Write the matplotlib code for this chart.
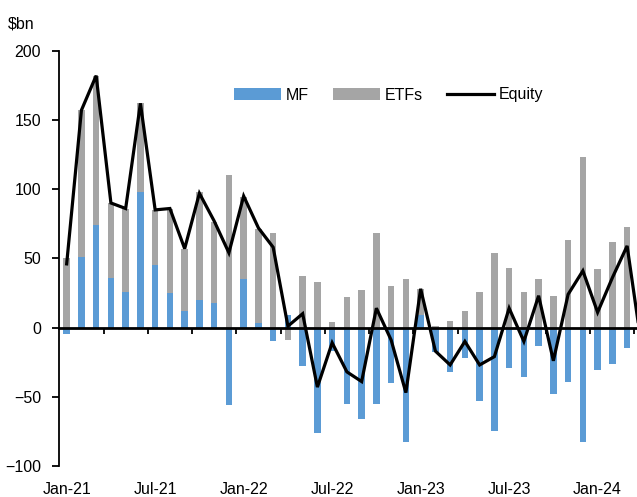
import numpy as np
import matplotlib
matplotlib.use("Agg")
import matplotlib.pyplot as plt
import matplotlib.transforms as mtransforms

plt.rcParams["font.family"] = ["Liberation Sans", "DejaVu Sans"]
plt.rcParams["font.size"] = 11.5

# monthly flows, $bn, Jan-21 .. Apr-24
months = ["Jan-21", "Feb-21", "Mar-21", "Apr-21", "May-21", "Jun-21",
          "Jul-21", "Aug-21", "Sep-21", "Oct-21", "Nov-21", "Dec-21",
          "Jan-22", "Feb-22", "Mar-22", "Apr-22", "May-22", "Jun-22",
          "Jul-22", "Aug-22", "Sep-22", "Oct-22", "Nov-22", "Dec-22",
          "Jan-23", "Feb-23", "Mar-23", "Apr-23", "May-23", "Jun-23",
          "Jul-23", "Aug-23", "Sep-23", "Oct-23", "Nov-23", "Dec-23",
          "Jan-24", "Feb-24", "Mar-24", "Apr-24"]
mf = [-5, 51, 74, 36, 26, 98, 45, 25, 12, 20, 18, -56,
      35, 3, -10, 9, -28, -76, -17, -55, -66, -55, -40, -83,
      9, -18, -32, -22, -53, -75, -29, -36, -13, -48, -39, -83,
      -31, -26, -15, -30]
etfs = [50, 106, 108, 54, 60, 64, 40, 61, 45, 78, 58, 110,
        59, 68, 68, -9, 37, 33, 4, 22, 27, 68, 30, 35,
        19, 1, 5, 12, 26, 54, 43, 26, 35, 23, 63, 123,
        42, 62, 73, 15]
equity = [46, 157, 182, 90, 86, 162, 85, 86, 57, 97, 77, 54,
          95, 72, 58, 1, 10, -43, -11, -32, -39, 14, -9, -47,
          28, -17, -27, -10, -27, -21, 14, -10, 23, -24, 24, 41,
          11, 36, 59, -15]
label_months = ["Jan-21", "Jul-21", "Jan-22", "Jul-22", "Jan-23", "Jul-23", "Jan-24"]

BLUE = "#5B9BD5"
GREY = "#A5A5A5"

x = np.arange(len(months))
mf_a = np.array(mf, dtype=float)
etf_a = np.array(etfs, dtype=float)
# excel-style stacking: positives up from 0, negatives down from 0
etf_bottom = np.where(etf_a >= 0, np.clip(mf_a, 0, None), np.clip(mf_a, None, 0))

fig = plt.figure(figsize=(6.37, 4.97), dpi=100)
ax = fig.add_axes([59 / 637, 31 / 497, 578 / 637, 415.3 / 497])

b1 = ax.bar(x, mf_a, width=0.45, color=BLUE, label="MF", zorder=2)
b2 = ax.bar(x, etf_a, width=0.45, bottom=etf_bottom, color=GREY, label="ETFs", zorder=2)
l1, = ax.plot(x, equity, color="black", lw=2.3, label="Equity", zorder=3,
              solid_joinstyle="miter")

ax.set_xlim(-0.52, 38.67)
ax.set_ylim(-100, 200)
ax.set_yticks(np.arange(-100, 201, 50))

for s in ["top", "right"]:
    ax.spines[s].set_visible(False)
ax.spines["left"].set_linewidth(1.3)
ax.spines["bottom"].set_position(("data", 0))
ax.spines["bottom"].set_linewidth(2)
ax.spines["bottom"].set_zorder(4)

ax.set_xticks(np.arange(2.5, 39, 3))
ax.tick_params(axis="x", direction="out", length=4, width=1.3, labelbottom=False)
ax.tick_params(axis="y", direction="out", length=5, width=1.3, pad=8)

trans = mtransforms.blended_transform_factory(ax.transData, ax.transAxes)
for lab in label_months:
    ax.text(months.index(lab), -0.057, lab, transform=trans,
            ha="center", va="center", clip_on=False)

fig.text(8 / 637, 1 - 24 / 497, "$bn", ha="left", va="center")

leg = ax.legend([b1, b2, l1], ["MF", "ETFs", "Equity"],
                loc="center", bbox_to_anchor=(389 / 637, 1 - 95 / 497),
                bbox_transform=fig.transFigure, ncol=3, frameon=False,
                handlelength=2.9, handletextpad=0.35, columnspacing=1.5,
                borderpad=0)

fig.savefig("out.png", dpi=100)
